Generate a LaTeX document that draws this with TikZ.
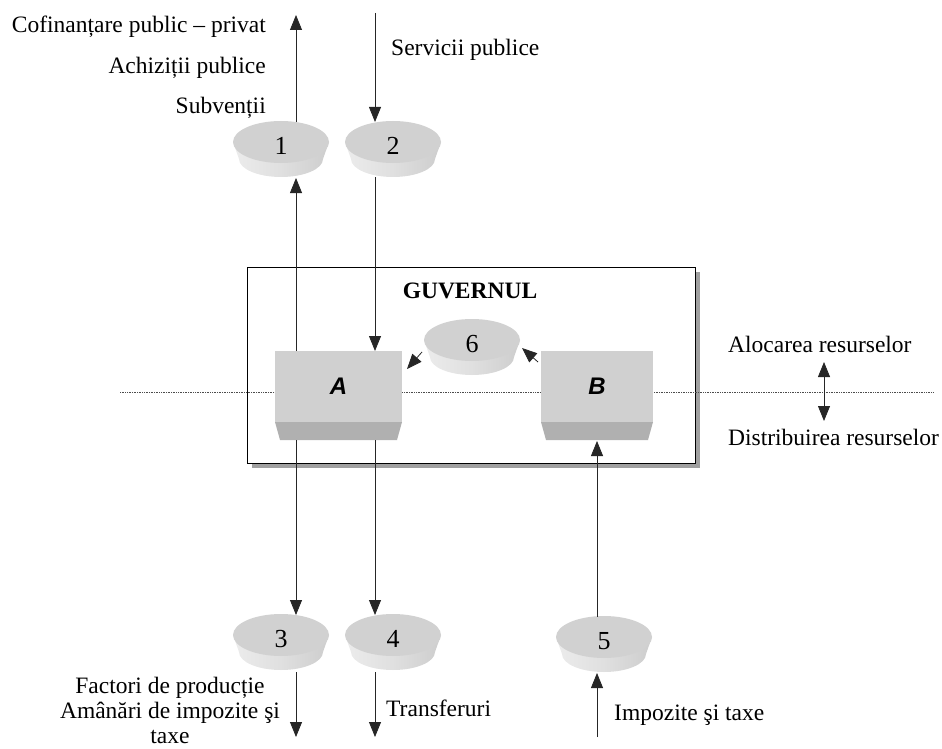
\documentclass[tikz,border=0pt]{standalone}
\usepackage{fontspec}
\setmainfont{Liberation Serif}
\newfontfamily\arialfont{Liberation Sans}
\usetikzlibrary{arrows.meta}
\definecolor{topc}{RGB}{209,209,209}
\definecolor{sidel}{RGB}{236,236,236}
\definecolor{sider}{RGB}{205,205,205}
\definecolor{boxc}{RGB}{208,208,208}
\definecolor{boxd}{RGB}{176,176,176}
\definecolor{shadowc}{RGB}{160,160,160}
\newcommand\mydisk[4]{%
  \begin{scope}[shift={(#2,#3)}]
    \shade[left color=sidel,right color=sider,middle color=sidel!60!sider]
      (-48,0) -- (-42,17) arc[start angle=180,end angle=0,x radius=42,y radius=18] -- (48,0) -- cycle;
    \fill[topc] (0,0) ellipse [x radius=48, y radius=21];
    \node[lbl,font=\fontsize{26}{28}\selectfont] (#1) at (0,4) {#4};
  \end{scope}}
\newcommand\mybox[4]{%
  \fill[boxc] (#2,351) rectangle (#3,422);
  \fill[boxd] (#2,422) -- (#3,422) -- ({#3-5},440) -- ({#2+5},440) -- cycle;
  \node[font=\arialfont\bfseries\itshape\fontsize{24}{26}\selectfont,inner sep=0pt] (#1) at ({(#2+#3)/2},386) {#4};}
\tikzset{
  lbl/.style={font=\fontsize{23.5}{25}\selectfont, inner sep=0pt, text=black},
  arr/.style={-{Triangle[length=15pt,width=12pt]}, line width=0.8pt, draw=black!85},
  darr/.style={{Triangle[length=15pt,width=12pt]}-{Triangle[length=15pt,width=12pt]}, line width=0.8pt, draw=black!85}
}
\begin{document}
\begin{tikzpicture}[x=1pt,y=-1pt]
\useasboundingbox (0,0) rectangle (942,749);
% main box
\fill[shadowc] (252,272) rectangle (700,468);
\fill[white] (247,267) rectangle (695,463);
\draw[line width=0.8pt] (247,267) rectangle (695,463);
\node[lbl,font=\bfseries\fontsize{23.5}{26}\selectfont] (guv) at (470,291) {GUVERNUL};
% dotted line
\draw[densely dotted, line width=0.7pt, black!70] (120,392) coordinate (dl) -- (933,392) coordinate (dr);
% boxes
\mybox{A}{275}{402}{A}
\mybox{B}{541}{653}{B}
% disks
\mydisk{d1}{281}{142}{1}
\mydisk{d2}{393}{142}{2}
\mydisk{d3}{281}{635}{3}
\mydisk{d4}{393}{635}{4}
\mydisk{d5}{604}{637}{5}
\mydisk{d6}{472}{340}{6}
% coordinates
\coordinate (p1top) at (296,15);
\coordinate (d1t) at (296,122);
\coordinate (d1b) at (296,178);
\coordinate (Aa) at (296,351);
\coordinate (p2top) at (375,13);
\coordinate (d2t) at (375,122);
\coordinate (d2b) at (375,177);
\coordinate (Ab) at (375,351);
\coordinate (Ac) at (296,440);
\coordinate (Ad) at (375,440);
\coordinate (d3t) at (296,615);
\coordinate (d4t) at (375,615);
\coordinate (d3b) at (296,672);
\coordinate (d4b) at (375,672);
\coordinate (p3bot) at (296,737);
\coordinate (p4bot) at (375,737);
\coordinate (p5bot) at (597,737);
\coordinate (d5b) at (597,673);
\coordinate (d5t) at (597,617);
\coordinate (Bb) at (597,441);
\coordinate (d6l) at (422,352);
\coordinate (Ae) at (407,369);
\coordinate (Bl) at (538,362);
\coordinate (d6r) at (522,348);
\coordinate (rt) at (824,362);
\coordinate (rb) at (824,421);
% connectors
\draw[arr] (d1t) -- (p1top);
\draw[arr] (Aa) -- (d1b);
\draw[arr] (p2top) -- (d2t);
\draw[arr] (d2b) -- (Ab);
\draw[arr] (Ac) -- (d3t);
\draw[arr] (Ad) -- (d4t);
\draw[arr] (d3b) -- (p3bot);
\draw[arr] (d4b) -- (p4bot);
\draw[arr] (p5bot) -- (d5b);
\draw[arr] (d5t) -- (Bb);
\draw[arr] (d6l) -- (Ae);
\draw[arr] (Bl) -- (d6r);
\draw[darr] (rt) -- (rb);
% labels
\node[lbl,anchor=east] (t1) at (266,27) {Cofinanțare public – privat};
\node[lbl,anchor=east] (t2) at (266,68) {Achiziții publice};
\node[lbl,anchor=east] (t3) at (266,108) {Subvenții};
\node[lbl,anchor=west] (t4) at (391,50) {Servicii publice};
\node[lbl,anchor=west] (t5) at (728,344) {Alocarea resurselor};
\node[lbl,anchor=west] (t6) at (728,437) {Distribuirea resurselor};
\node[lbl,align=center] (t7) at (170,710) {Factori de producție\\Amânări de impozite şi\\taxe};
\node[lbl,anchor=west] (t8) at (386,708) {Transferuri};
\node[lbl,anchor=west] (t9) at (614,715) {Impozite şi taxe};
\end{tikzpicture}
\end{document}
